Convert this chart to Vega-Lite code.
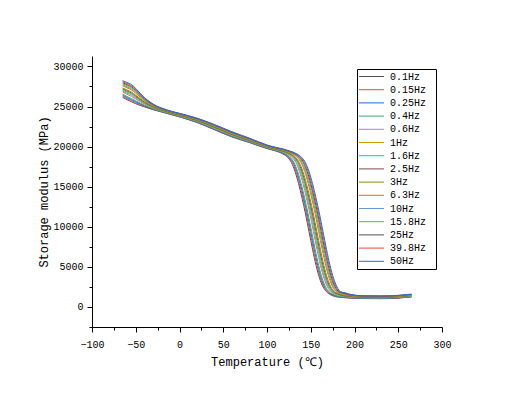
{
"$schema":"https://vega.github.io/schema/vega-lite/v6.json",
"autosize":{"type":"none"},
"padding":{"left":92,"top":56,"right":74,"bottom":68},
"width":350,"height":271,
"background":"white",
"config":{"view":{"stroke":null},"font":"Liberation Mono"},
"data":{"values":[
{"f":"0.1Hz","T":-65,"E":26150},{"f":"0.1Hz","T":-60,"E":25850},{"f":"0.1Hz","T":-55,"E":25600},{"f":"0.1Hz","T":-50,"E":25350},{"f":"0.1Hz","T":-40,"E":24950},{"f":"0.1Hz","T":-30,"E":24600},{"f":"0.1Hz","T":-15,"E":24150},{"f":"0.1Hz","T":0,"E":23700},{"f":"0.1Hz","T":20,"E":23000},{"f":"0.1Hz","T":40,"E":22100},{"f":"0.1Hz","T":60,"E":21200},{"f":"0.1Hz","T":80,"E":20500},{"f":"0.1Hz","T":100,"E":19750},
{"f":"0.1Hz","T":110,"E":19450},{"f":"0.1Hz","T":118,"E":19100},{"f":"0.1Hz","T":124,"E":18600},{"f":"0.1Hz","T":128,"E":18000},{"f":"0.1Hz","T":132,"E":16900},{"f":"0.1Hz","T":136,"E":15400},{"f":"0.1Hz","T":140,"E":13600},{"f":"0.1Hz","T":144,"E":11600},{"f":"0.1Hz","T":148,"E":9400},{"f":"0.1Hz","T":152,"E":7200},{"f":"0.1Hz","T":156,"E":5200},{"f":"0.1Hz","T":160,"E":3600},{"f":"0.1Hz","T":164,"E":2500},{"f":"0.1Hz","T":168,"E":1900},{"f":"0.1Hz","T":174,"E":1450},{"f":"0.1Hz","T":180,"E":1250},
{"f":"0.1Hz","T":210,"E":1050},{"f":"0.1Hz","T":230,"E":1030},{"f":"0.1Hz","T":250,"E":1100},{"f":"0.1Hz","T":265,"E":1250},

{"f":"0.15Hz","T":-65,"E":26280},{"f":"0.15Hz","T":-60,"E":25980},{"f":"0.15Hz","T":-55,"E":25730},{"f":"0.15Hz","T":-50,"E":25470},{"f":"0.15Hz","T":-40,"E":25020},{"f":"0.15Hz","T":-30,"E":24640},{"f":"0.15Hz","T":-15,"E":24180},{"f":"0.15Hz","T":0,"E":23730},{"f":"0.15Hz","T":20,"E":23030},{"f":"0.15Hz","T":40,"E":22140},{"f":"0.15Hz","T":60,"E":21240},{"f":"0.15Hz","T":80,"E":20530},{"f":"0.15Hz","T":100,"E":19780},
{"f":"0.15Hz","T":111,"E":19450},{"f":"0.15Hz","T":119,"E":19100},{"f":"0.15Hz","T":125,"E":18600},{"f":"0.15Hz","T":129,"E":18000},{"f":"0.15Hz","T":133,"E":16900},{"f":"0.15Hz","T":137,"E":15400},{"f":"0.15Hz","T":141,"E":13600},{"f":"0.15Hz","T":145,"E":11600},{"f":"0.15Hz","T":149,"E":9400},{"f":"0.15Hz","T":153,"E":7200},{"f":"0.15Hz","T":157,"E":5200},{"f":"0.15Hz","T":161,"E":3600},{"f":"0.15Hz","T":165,"E":2500},{"f":"0.15Hz","T":169,"E":1900},{"f":"0.15Hz","T":175,"E":1470},{"f":"0.15Hz","T":181,"E":1270},
{"f":"0.15Hz","T":210,"E":1070},{"f":"0.15Hz","T":230,"E":1050},{"f":"0.15Hz","T":250,"E":1120},{"f":"0.15Hz","T":265,"E":1270},

{"f":"0.25Hz","T":-65,"E":26410},{"f":"0.25Hz","T":-60,"E":26120},{"f":"0.25Hz","T":-55,"E":25870},{"f":"0.25Hz","T":-50,"E":25590},{"f":"0.25Hz","T":-40,"E":25090},{"f":"0.25Hz","T":-30,"E":24690},{"f":"0.25Hz","T":-15,"E":24210},{"f":"0.25Hz","T":0,"E":23760},{"f":"0.25Hz","T":20,"E":23070},{"f":"0.25Hz","T":40,"E":22180},{"f":"0.25Hz","T":60,"E":21280},{"f":"0.25Hz","T":80,"E":20570},{"f":"0.25Hz","T":100,"E":19810},
{"f":"0.25Hz","T":112,"E":19450},{"f":"0.25Hz","T":120,"E":19100},{"f":"0.25Hz","T":126,"E":18600},{"f":"0.25Hz","T":130,"E":18000},{"f":"0.25Hz","T":134,"E":16900},{"f":"0.25Hz","T":138,"E":15400},{"f":"0.25Hz","T":142,"E":13600},{"f":"0.25Hz","T":146,"E":11600},{"f":"0.25Hz","T":150,"E":9400},{"f":"0.25Hz","T":154,"E":7200},{"f":"0.25Hz","T":158,"E":5200},{"f":"0.25Hz","T":162,"E":3600},{"f":"0.25Hz","T":166,"E":2500},{"f":"0.25Hz","T":170,"E":1900},{"f":"0.25Hz","T":176,"E":1490},{"f":"0.25Hz","T":182,"E":1290},
{"f":"0.25Hz","T":210,"E":1090},{"f":"0.25Hz","T":230,"E":1070},{"f":"0.25Hz","T":250,"E":1140},{"f":"0.25Hz","T":265,"E":1290},

{"f":"0.4Hz","T":-65,"E":26540},{"f":"0.4Hz","T":-60,"E":26250},{"f":"0.4Hz","T":-55,"E":26000},{"f":"0.4Hz","T":-50,"E":25710},{"f":"0.4Hz","T":-40,"E":25170},{"f":"0.4Hz","T":-30,"E":24730},{"f":"0.4Hz","T":-15,"E":24230},{"f":"0.4Hz","T":0,"E":23780},{"f":"0.4Hz","T":20,"E":23100},{"f":"0.4Hz","T":40,"E":22220},{"f":"0.4Hz","T":60,"E":21320},{"f":"0.4Hz","T":80,"E":20600},{"f":"0.4Hz","T":100,"E":19830},
{"f":"0.4Hz","T":113,"E":19450},{"f":"0.4Hz","T":121,"E":19100},{"f":"0.4Hz","T":127,"E":18600},{"f":"0.4Hz","T":131,"E":18000},{"f":"0.4Hz","T":135,"E":16900},{"f":"0.4Hz","T":139,"E":15400},{"f":"0.4Hz","T":143,"E":13600},{"f":"0.4Hz","T":147,"E":11600},{"f":"0.4Hz","T":151,"E":9400},{"f":"0.4Hz","T":155,"E":7200},{"f":"0.4Hz","T":159,"E":5200},{"f":"0.4Hz","T":163,"E":3600},{"f":"0.4Hz","T":167,"E":2500},{"f":"0.4Hz","T":171,"E":1900},{"f":"0.4Hz","T":177,"E":1510},{"f":"0.4Hz","T":183,"E":1310},
{"f":"0.4Hz","T":210,"E":1120},{"f":"0.4Hz","T":230,"E":1100},{"f":"0.4Hz","T":250,"E":1170},{"f":"0.4Hz","T":265,"E":1320},

{"f":"0.6Hz","T":-65,"E":26800},{"f":"0.6Hz","T":-60,"E":26520},{"f":"0.6Hz","T":-55,"E":26270},{"f":"0.6Hz","T":-50,"E":25940},{"f":"0.6Hz","T":-40,"E":25310},{"f":"0.6Hz","T":-30,"E":24820},{"f":"0.6Hz","T":-15,"E":24290},{"f":"0.6Hz","T":0,"E":23840},{"f":"0.6Hz","T":20,"E":23170},{"f":"0.6Hz","T":40,"E":22300},{"f":"0.6Hz","T":60,"E":21400},{"f":"0.6Hz","T":80,"E":20670},{"f":"0.6Hz","T":100,"E":19890},
{"f":"0.6Hz","T":115,"E":19450},{"f":"0.6Hz","T":123,"E":19100},{"f":"0.6Hz","T":129,"E":18600},{"f":"0.6Hz","T":133,"E":18000},{"f":"0.6Hz","T":137,"E":16900},{"f":"0.6Hz","T":141,"E":15400},{"f":"0.6Hz","T":145,"E":13600},{"f":"0.6Hz","T":149,"E":11600},{"f":"0.6Hz","T":153,"E":9400},{"f":"0.6Hz","T":157,"E":7200},{"f":"0.6Hz","T":161,"E":5200},{"f":"0.6Hz","T":165,"E":3600},{"f":"0.6Hz","T":169,"E":2500},{"f":"0.6Hz","T":173,"E":1900},{"f":"0.6Hz","T":179,"E":1540},{"f":"0.6Hz","T":185,"E":1340},
{"f":"0.6Hz","T":210,"E":1160},{"f":"0.6Hz","T":230,"E":1140},{"f":"0.6Hz","T":250,"E":1210},{"f":"0.6Hz","T":265,"E":1360},

{"f":"1Hz","T":-65,"E":26930},{"f":"1Hz","T":-60,"E":26660},{"f":"1Hz","T":-55,"E":26410},{"f":"1Hz","T":-50,"E":26060},{"f":"1Hz","T":-40,"E":25380},{"f":"1Hz","T":-30,"E":24860},{"f":"1Hz","T":-15,"E":24320},{"f":"1Hz","T":0,"E":23870},{"f":"1Hz","T":20,"E":23210},{"f":"1Hz","T":40,"E":22340},{"f":"1Hz","T":60,"E":21440},{"f":"1Hz","T":80,"E":20710},{"f":"1Hz","T":100,"E":19920},
{"f":"1Hz","T":116,"E":19450},{"f":"1Hz","T":124,"E":19100},{"f":"1Hz","T":130,"E":18600},{"f":"1Hz","T":134,"E":18000},{"f":"1Hz","T":138,"E":16900},{"f":"1Hz","T":142,"E":15400},{"f":"1Hz","T":146,"E":13600},{"f":"1Hz","T":150,"E":11600},{"f":"1Hz","T":154,"E":9400},{"f":"1Hz","T":158,"E":7200},{"f":"1Hz","T":162,"E":5200},{"f":"1Hz","T":166,"E":3600},{"f":"1Hz","T":170,"E":2500},{"f":"1Hz","T":174,"E":1900},{"f":"1Hz","T":180,"E":1560},{"f":"1Hz","T":186,"E":1360},
{"f":"1Hz","T":210,"E":1180},{"f":"1Hz","T":230,"E":1160},{"f":"1Hz","T":250,"E":1230},{"f":"1Hz","T":265,"E":1380},

{"f":"1.6Hz","T":-65,"E":27060},{"f":"1.6Hz","T":-60,"E":26790},{"f":"1.6Hz","T":-55,"E":26540},{"f":"1.6Hz","T":-50,"E":26180},{"f":"1.6Hz","T":-40,"E":25450},{"f":"1.6Hz","T":-30,"E":24910},{"f":"1.6Hz","T":-15,"E":24350},{"f":"1.6Hz","T":0,"E":23900},{"f":"1.6Hz","T":20,"E":23240},{"f":"1.6Hz","T":40,"E":22380},{"f":"1.6Hz","T":60,"E":21480},{"f":"1.6Hz","T":80,"E":20740},{"f":"1.6Hz","T":100,"E":19950},
{"f":"1.6Hz","T":117,"E":19450},{"f":"1.6Hz","T":125,"E":19100},{"f":"1.6Hz","T":131,"E":18600},{"f":"1.6Hz","T":135,"E":18000},{"f":"1.6Hz","T":139,"E":16900},{"f":"1.6Hz","T":143,"E":15400},{"f":"1.6Hz","T":147,"E":13600},{"f":"1.6Hz","T":151,"E":11600},{"f":"1.6Hz","T":155,"E":9400},{"f":"1.6Hz","T":159,"E":7200},{"f":"1.6Hz","T":163,"E":5200},{"f":"1.6Hz","T":167,"E":3600},{"f":"1.6Hz","T":171,"E":2500},{"f":"1.6Hz","T":175,"E":1900},{"f":"1.6Hz","T":181,"E":1580},{"f":"1.6Hz","T":187,"E":1380},
{"f":"1.6Hz","T":210,"E":1200},{"f":"1.6Hz","T":230,"E":1180},{"f":"1.6Hz","T":250,"E":1250},{"f":"1.6Hz","T":265,"E":1400},

{"f":"2.5Hz","T":-65,"E":27190},{"f":"2.5Hz","T":-60,"E":26930},{"f":"2.5Hz","T":-55,"E":26680},{"f":"2.5Hz","T":-50,"E":26300},{"f":"2.5Hz","T":-40,"E":25530},{"f":"2.5Hz","T":-30,"E":24950},{"f":"2.5Hz","T":-15,"E":24380},{"f":"2.5Hz","T":0,"E":23930},{"f":"2.5Hz","T":20,"E":23280},{"f":"2.5Hz","T":40,"E":22430},{"f":"2.5Hz","T":60,"E":21530},{"f":"2.5Hz","T":80,"E":20780},{"f":"2.5Hz","T":100,"E":19980},
{"f":"2.5Hz","T":118,"E":19450},{"f":"2.5Hz","T":126,"E":19100},{"f":"2.5Hz","T":132,"E":18600},{"f":"2.5Hz","T":136,"E":18000},{"f":"2.5Hz","T":140,"E":16900},{"f":"2.5Hz","T":144,"E":15400},{"f":"2.5Hz","T":148,"E":13600},{"f":"2.5Hz","T":152,"E":11600},{"f":"2.5Hz","T":156,"E":9400},{"f":"2.5Hz","T":160,"E":7200},{"f":"2.5Hz","T":164,"E":5200},{"f":"2.5Hz","T":168,"E":3600},{"f":"2.5Hz","T":172,"E":2500},{"f":"2.5Hz","T":176,"E":1900},{"f":"2.5Hz","T":182,"E":1600},{"f":"2.5Hz","T":188,"E":1400},
{"f":"2.5Hz","T":210,"E":1230},{"f":"2.5Hz","T":230,"E":1210},{"f":"2.5Hz","T":250,"E":1280},{"f":"2.5Hz","T":265,"E":1430},

{"f":"3Hz","T":-65,"E":27320},{"f":"3Hz","T":-60,"E":27060},{"f":"3Hz","T":-55,"E":26810},{"f":"3Hz","T":-50,"E":26420},{"f":"3Hz","T":-40,"E":25600},{"f":"3Hz","T":-30,"E":24990},{"f":"3Hz","T":-15,"E":24400},{"f":"3Hz","T":0,"E":23950},{"f":"3Hz","T":20,"E":23310},{"f":"3Hz","T":40,"E":22470},{"f":"3Hz","T":60,"E":21570},{"f":"3Hz","T":80,"E":20810},{"f":"3Hz","T":100,"E":20000},
{"f":"3Hz","T":119,"E":19450},{"f":"3Hz","T":127,"E":19100},{"f":"3Hz","T":133,"E":18600},{"f":"3Hz","T":137,"E":18000},{"f":"3Hz","T":141,"E":16900},{"f":"3Hz","T":145,"E":15400},{"f":"3Hz","T":149,"E":13600},{"f":"3Hz","T":153,"E":11600},{"f":"3Hz","T":157,"E":9400},{"f":"3Hz","T":161,"E":7200},{"f":"3Hz","T":165,"E":5200},{"f":"3Hz","T":169,"E":3600},{"f":"3Hz","T":173,"E":2500},{"f":"3Hz","T":177,"E":1900},{"f":"3Hz","T":183,"E":1620},{"f":"3Hz","T":189,"E":1420},
{"f":"3Hz","T":210,"E":1250},{"f":"3Hz","T":230,"E":1230},{"f":"3Hz","T":250,"E":1300},{"f":"3Hz","T":265,"E":1450},

{"f":"6.3Hz","T":-65,"E":27580},{"f":"6.3Hz","T":-60,"E":27330},{"f":"6.3Hz","T":-55,"E":27080},{"f":"6.3Hz","T":-50,"E":26660},{"f":"6.3Hz","T":-40,"E":25740},{"f":"6.3Hz","T":-30,"E":25080},{"f":"6.3Hz","T":-15,"E":24460},{"f":"6.3Hz","T":0,"E":24010},{"f":"6.3Hz","T":20,"E":23380},{"f":"6.3Hz","T":40,"E":22550},{"f":"6.3Hz","T":60,"E":21650},{"f":"6.3Hz","T":80,"E":20880},{"f":"6.3Hz","T":100,"E":20060},
{"f":"6.3Hz","T":121,"E":19450},{"f":"6.3Hz","T":129,"E":19100},{"f":"6.3Hz","T":135,"E":18600},{"f":"6.3Hz","T":139,"E":18000},{"f":"6.3Hz","T":143,"E":16900},{"f":"6.3Hz","T":147,"E":15400},{"f":"6.3Hz","T":151,"E":13600},{"f":"6.3Hz","T":155,"E":11600},{"f":"6.3Hz","T":159,"E":9400},{"f":"6.3Hz","T":163,"E":7200},{"f":"6.3Hz","T":167,"E":5200},{"f":"6.3Hz","T":171,"E":3600},{"f":"6.3Hz","T":175,"E":2500},{"f":"6.3Hz","T":179,"E":1900},{"f":"6.3Hz","T":185,"E":1660},{"f":"6.3Hz","T":191,"E":1460},
{"f":"6.3Hz","T":210,"E":1290},{"f":"6.3Hz","T":230,"E":1270},{"f":"6.3Hz","T":250,"E":1340},{"f":"6.3Hz","T":265,"E":1490},

{"f":"10Hz","T":-65,"E":27710},{"f":"10Hz","T":-60,"E":27460},{"f":"10Hz","T":-55,"E":27210},{"f":"10Hz","T":-50,"E":26780},{"f":"10Hz","T":-40,"E":25810},{"f":"10Hz","T":-30,"E":25130},{"f":"10Hz","T":-15,"E":24490},{"f":"10Hz","T":0,"E":24040},{"f":"10Hz","T":20,"E":23410},{"f":"10Hz","T":40,"E":22590},{"f":"10Hz","T":60,"E":21690},{"f":"10Hz","T":80,"E":20910},{"f":"10Hz","T":100,"E":20090},
{"f":"10Hz","T":122,"E":19450},{"f":"10Hz","T":130,"E":19100},{"f":"10Hz","T":136,"E":18600},{"f":"10Hz","T":140,"E":18000},{"f":"10Hz","T":144,"E":16900},{"f":"10Hz","T":148,"E":15400},{"f":"10Hz","T":152,"E":13600},{"f":"10Hz","T":156,"E":11600},{"f":"10Hz","T":160,"E":9400},{"f":"10Hz","T":164,"E":7200},{"f":"10Hz","T":168,"E":5200},{"f":"10Hz","T":172,"E":3600},{"f":"10Hz","T":176,"E":2500},{"f":"10Hz","T":180,"E":1900},{"f":"10Hz","T":186,"E":1680},{"f":"10Hz","T":192,"E":1480},
{"f":"10Hz","T":210,"E":1310},{"f":"10Hz","T":230,"E":1290},{"f":"10Hz","T":250,"E":1360},{"f":"10Hz","T":265,"E":1510},

{"f":"15.8Hz","T":-65,"E":27840},{"f":"15.8Hz","T":-60,"E":27600},{"f":"15.8Hz","T":-55,"E":27350},{"f":"15.8Hz","T":-50,"E":26890},{"f":"15.8Hz","T":-40,"E":25880},{"f":"15.8Hz","T":-30,"E":25170},{"f":"15.8Hz","T":-15,"E":24520},{"f":"15.8Hz","T":0,"E":24070},{"f":"15.8Hz","T":20,"E":23450},{"f":"15.8Hz","T":40,"E":22630},{"f":"15.8Hz","T":60,"E":21730},{"f":"15.8Hz","T":80,"E":20950},{"f":"15.8Hz","T":100,"E":20120},
{"f":"15.8Hz","T":123,"E":19450},{"f":"15.8Hz","T":131,"E":19100},{"f":"15.8Hz","T":137,"E":18600},{"f":"15.8Hz","T":141,"E":18000},{"f":"15.8Hz","T":145,"E":16900},{"f":"15.8Hz","T":149,"E":15400},{"f":"15.8Hz","T":153,"E":13600},{"f":"15.8Hz","T":157,"E":11600},{"f":"15.8Hz","T":161,"E":9400},{"f":"15.8Hz","T":165,"E":7200},{"f":"15.8Hz","T":169,"E":5200},{"f":"15.8Hz","T":173,"E":3600},{"f":"15.8Hz","T":177,"E":2500},{"f":"15.8Hz","T":181,"E":1900},{"f":"15.8Hz","T":187,"E":1690},{"f":"15.8Hz","T":193,"E":1490},
{"f":"15.8Hz","T":210,"E":1330},{"f":"15.8Hz","T":230,"E":1310},{"f":"15.8Hz","T":250,"E":1380},{"f":"15.8Hz","T":265,"E":1530},

{"f":"25Hz","T":-65,"E":27970},{"f":"25Hz","T":-60,"E":27730},{"f":"25Hz","T":-55,"E":27480},{"f":"25Hz","T":-50,"E":27010},{"f":"25Hz","T":-40,"E":25960},{"f":"25Hz","T":-30,"E":25210},{"f":"25Hz","T":-15,"E":24540},{"f":"25Hz","T":0,"E":24090},{"f":"25Hz","T":20,"E":23480},{"f":"25Hz","T":40,"E":22670},{"f":"25Hz","T":60,"E":21770},{"f":"25Hz","T":80,"E":20980},{"f":"25Hz","T":100,"E":20140},
{"f":"25Hz","T":124,"E":19450},{"f":"25Hz","T":132,"E":19100},{"f":"25Hz","T":138,"E":18600},{"f":"25Hz","T":142,"E":18000},{"f":"25Hz","T":146,"E":16900},{"f":"25Hz","T":150,"E":15400},{"f":"25Hz","T":154,"E":13600},{"f":"25Hz","T":158,"E":11600},{"f":"25Hz","T":162,"E":9400},{"f":"25Hz","T":166,"E":7200},{"f":"25Hz","T":170,"E":5200},{"f":"25Hz","T":174,"E":3600},{"f":"25Hz","T":178,"E":2500},{"f":"25Hz","T":182,"E":1900},{"f":"25Hz","T":188,"E":1710},{"f":"25Hz","T":194,"E":1510},
{"f":"25Hz","T":210,"E":1360},{"f":"25Hz","T":230,"E":1340},{"f":"25Hz","T":250,"E":1410},{"f":"25Hz","T":265,"E":1560},

{"f":"39.8Hz","T":-65,"E":28100},{"f":"39.8Hz","T":-60,"E":27870},{"f":"39.8Hz","T":-55,"E":27620},{"f":"39.8Hz","T":-50,"E":27130},{"f":"39.8Hz","T":-40,"E":26030},{"f":"39.8Hz","T":-30,"E":25260},{"f":"39.8Hz","T":-15,"E":24570},{"f":"39.8Hz","T":0,"E":24120},{"f":"39.8Hz","T":20,"E":23520},{"f":"39.8Hz","T":40,"E":22710},{"f":"39.8Hz","T":60,"E":21810},{"f":"39.8Hz","T":80,"E":21020},{"f":"39.8Hz","T":100,"E":20170},
{"f":"39.8Hz","T":125,"E":19450},{"f":"39.8Hz","T":133,"E":19100},{"f":"39.8Hz","T":139,"E":18600},{"f":"39.8Hz","T":143,"E":18000},{"f":"39.8Hz","T":147,"E":16900},{"f":"39.8Hz","T":151,"E":15400},{"f":"39.8Hz","T":155,"E":13600},{"f":"39.8Hz","T":159,"E":11600},{"f":"39.8Hz","T":163,"E":9400},{"f":"39.8Hz","T":167,"E":7200},{"f":"39.8Hz","T":171,"E":5200},{"f":"39.8Hz","T":175,"E":3600},{"f":"39.8Hz","T":179,"E":2500},{"f":"39.8Hz","T":183,"E":1900},{"f":"39.8Hz","T":189,"E":1730},{"f":"39.8Hz","T":195,"E":1530},
{"f":"39.8Hz","T":210,"E":1380},{"f":"39.8Hz","T":230,"E":1360},{"f":"39.8Hz","T":250,"E":1430},{"f":"39.8Hz","T":265,"E":1580},

{"f":"50Hz","T":-65,"E":28230},{"f":"50Hz","T":-60,"E":28000},{"f":"50Hz","T":-55,"E":27750},{"f":"50Hz","T":-50,"E":27250},{"f":"50Hz","T":-40,"E":26100},{"f":"50Hz","T":-30,"E":25300},{"f":"50Hz","T":-15,"E":24600},{"f":"50Hz","T":0,"E":24150},{"f":"50Hz","T":20,"E":23550},{"f":"50Hz","T":40,"E":22750},{"f":"50Hz","T":60,"E":21850},{"f":"50Hz","T":80,"E":21050},{"f":"50Hz","T":100,"E":20200},
{"f":"50Hz","T":126,"E":19450},{"f":"50Hz","T":134,"E":19100},{"f":"50Hz","T":140,"E":18600},{"f":"50Hz","T":144,"E":18000},{"f":"50Hz","T":148,"E":16900},{"f":"50Hz","T":152,"E":15400},{"f":"50Hz","T":156,"E":13600},{"f":"50Hz","T":160,"E":11600},{"f":"50Hz","T":164,"E":9400},{"f":"50Hz","T":168,"E":7200},{"f":"50Hz","T":172,"E":5200},{"f":"50Hz","T":176,"E":3600},{"f":"50Hz","T":180,"E":2500},{"f":"50Hz","T":184,"E":1900},{"f":"50Hz","T":190,"E":1750},{"f":"50Hz","T":196,"E":1550},
{"f":"50Hz","T":210,"E":1400},{"f":"50Hz","T":230,"E":1380},{"f":"50Hz","T":250,"E":1450},{"f":"50Hz","T":265,"E":1600}
]},
"mark":{"type":"line","interpolate":"monotone","strokeWidth":1},
"encoding":{
"x":{"field":"T","type":"quantitative","scale":{"domain":[-100,300],"nice":false,"zero":false},
 "axis":{"title":"Temperature (℃)","values":[-100,-75,-50,-25,0,25,50,75,100,125,150,175,200,225,250,275,300],
  "labelExpr":"datum.value % 50 === 0 ? datum.label : ''","labelOverlap":false,"labelFlush":false,
  "tickSize":{"condition":{"test":"datum.value % 50 === 0","value":5},"value":3},
  "grid":false,"domainColor":"black","tickColor":"black","labelColor":"black","titleColor":"black",
  "labelFont":"Liberation Mono","labelFontSize":10,"titleFont":"Liberation Mono","titleFontSize":12,"titleFontWeight":"normal",
  "labelPadding":7,"titlePadding":7}},
"y":{"field":"E","type":"quantitative","scale":{"domain":[-2500,31300],"nice":false,"zero":false},
 "axis":{"title":"Storage modulus (MPa)","values":[-2500,0,2500,5000,7500,10000,12500,15000,17500,20000,22500,25000,27500,30000],
  "labelExpr":"datum.value % 5000 === 0 ? format(datum.value,'d') : ''","labelOverlap":false,"labelFlush":false,
  "tickSize":{"condition":{"test":"datum.value % 5000 === 0","value":5},"value":3},
  "grid":false,"domainColor":"black","tickColor":"black","labelColor":"black","titleColor":"black",
  "labelFont":"Liberation Mono","labelFontSize":10,"titleFont":"Liberation Mono","titleFontSize":12,"titleFontWeight":"normal",
  "labelPadding":4,"titlePadding":2}},
"color":{"field":"f","type":"nominal",
 "scale":{"domain":["0.1Hz","0.15Hz","0.25Hz","0.4Hz","0.6Hz","1Hz","1.6Hz","2.5Hz","3Hz","6.3Hz","10Hz","15.8Hz","25Hz","39.8Hz","50Hz"],
  "range":["#515151","#F14040","#1A6FDF","#37AD6B","#B177DE","#CC9900","#00CBCC","#7D4E4E","#8E8E00","#FB6501","#6699CC","#6FB802","#515151","#F14040","#1A6FDF"]},
 "legend":{"orient":"none","legendX":265,"legendY":13,"title":"\u00a0","titleOrient":"right","titlePadding":8,"titleFontSize":10,
  "strokeColor":"black","fillColor":"white","padding":2,
  "symbolType":"M-1.1,0H3.9","symbolSize":100,"symbolStrokeWidth":1,"labelOffset":20,
  "labelFont":"Liberation Mono","labelFontSize":10,"labelColor":"black","rowPadding":2.2}}
}
}
